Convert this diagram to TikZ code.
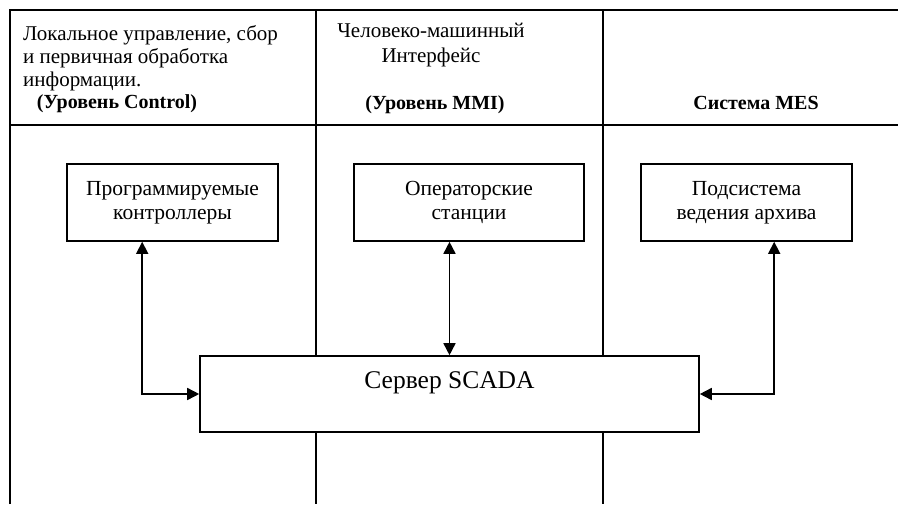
\documentclass[tikz,border=0pt]{standalone}
\usepackage{fontspec}
\setmainfont{Liberation Serif}
\usetikzlibrary{arrows.meta}

\begin{document}
\begin{tikzpicture}[x=1pt,y=-1pt]
    \tikzstyle{frame}=[line width=1.6pt]
    \tikzstyle{box}=[rectangle,draw,line width=1.6pt,fill=white,align=center,inner sep=0pt,font=\fontsize{21.5}{24}\selectfont]
    \tikzstyle{head}=[inner sep=0pt,font=\fontsize{21}{23}\selectfont]
    \tikzstyle{level}=[inner sep=0pt,anchor=base,font=\fontsize{20}{23}\selectfont\bfseries]
    \tikzstyle{link}=[line width=1.6pt,{Triangle[length=12pt,width=12pt]}-{Triangle[length=12pt,width=12pt]}]
    \useasboundingbox (0,0) rectangle (898,504);
    \coordinate (tl) at (10,10);
    \coordinate (tr) at (898,10);
    \coordinate (bl) at (10,504);
    \coordinate (hl) at (10,125);
    \coordinate (hr) at (898,125);
    \coordinate (d1t) at (316,10);
    \coordinate (d1b) at (316,504);
    \coordinate (d2t) at (603,10);
    \coordinate (d2b) at (603,504);
    \draw [frame] (bl) -- (tl) -- (tr);
    \draw [frame] (hl) -- (hr);
    \draw [frame] (d1t) -- (d1b);
    \draw [frame] (d2t) -- (d2b);
    \node (ctrl) at (23,86) [head,anchor=base west,align=left] {Локальное управление, сбор\\и первичная обработка\\информации.};
    \node (ctrllvl) at (117,108) [level] {(Уровень Control)};
    \node (mmi) at (431,62) [head,anchor=base,align=center,font=\fontsize{21}{25}\selectfont] {Человеко-машинный\\Интерфейс};
    \node (mmilvl) at (435,109) [level] {(Уровень MMI)};
    \node (meslvl) at (756,109) [level] {Система MES};
    \node (plc)  at (172.5,202.5) [box,minimum width=211,minimum height=77] {Программируемые\\контроллеры};
    \node (ops)  at (469,202.5)   [box,minimum width=230,minimum height=77] {Операторские\\станции};
    \node (arch) at (746.5,202.5) [box,minimum width=211,minimum height=77] {Подсистема\\ведения архива};
    \node (scada) at (449.5,394)  [box,minimum width=499,minimum height=76,text height=18pt,text depth=30pt,font=\fontsize{25.5}{30}\selectfont] {Сервер SCADA};
    \draw [link] ([xshift=76pt]plc.south west) |- (scada.west);
    \draw [link] (ops.south -| scada.north) -- (scada.north);
    \draw [link] ([xshift=134pt]arch.south west) |- (scada.east);
\end{tikzpicture}
\end{document}
